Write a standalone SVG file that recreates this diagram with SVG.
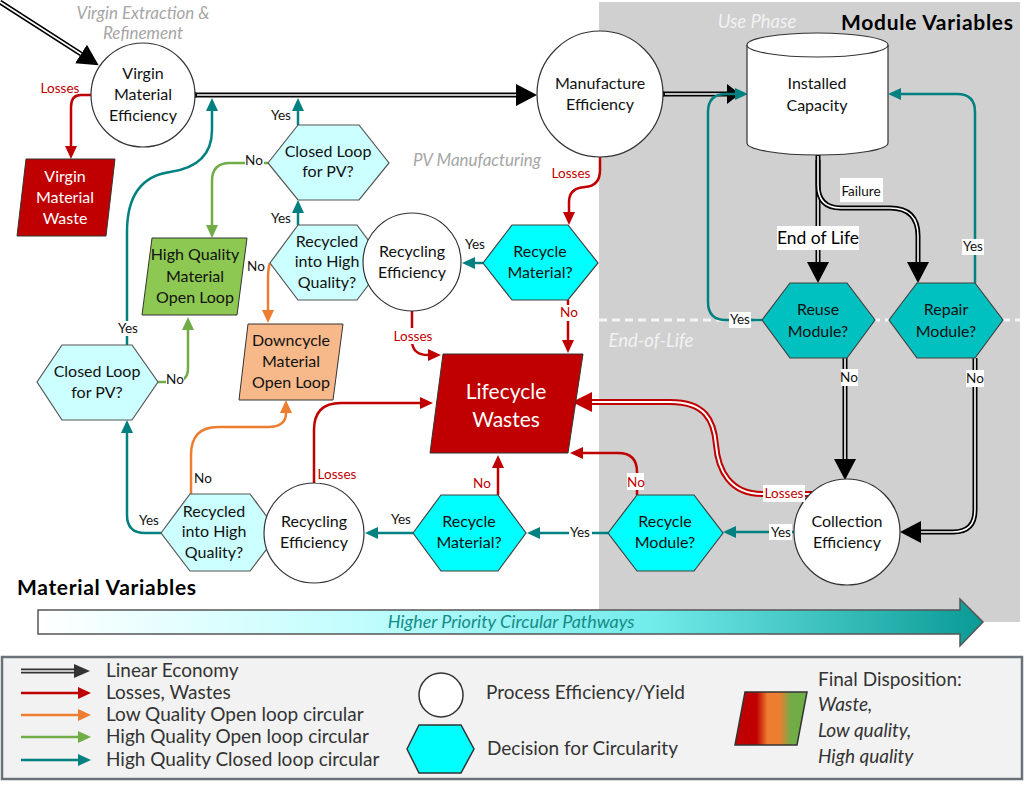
<svg xmlns="http://www.w3.org/2000/svg" width="1025" height="809" viewBox="0 0 1025 809">
<style>
text{font-family:Lato,'Open Sans','Noto Sans',sans-serif}
.t{font-size:16px;fill:#111;text-anchor:middle}
.w{fill:#fff}
.lb{font-size:13.5px;fill:#111;text-anchor:middle}
.lr{font-size:13.5px;fill:#C00000;text-anchor:middle}
.circ{fill:#fff;stroke:#333;stroke-width:1.2}
.hc{fill:#00FFFF;stroke:#404040;stroke-width:1.2}
.hl{fill:#CCFFFF;stroke:#555;stroke-width:1.2}
.ht{fill:#00C0C0;stroke:#404040;stroke-width:1.2}
.teal{fill:none;stroke:#008080;stroke-width:2.5}
.red{fill:none;stroke:#C00000;stroke-width:2.5}
.org{fill:none;stroke:#ED7D31;stroke-width:2.5}
.grn{fill:none;stroke:#70AD47;stroke-width:2.5}
.dbo{fill:none;stroke:#000;stroke-width:5}
.dbi{fill:none;stroke:#fff;stroke-width:1.6}
.rdo{fill:none;stroke:#C00000;stroke-width:6}
.rdi{fill:none;stroke:#fff;stroke-width:2}
.box{fill:#fff}
.leg{font-size:19px;fill:#333}
.gi{font-size:17px;font-style:italic;fill:#A6A6A6;text-anchor:middle}
.wi{font-size:18.5px;font-style:italic;fill:#F2F2F2;text-anchor:middle}
</style>
<defs>
<marker id="mT" viewBox="0 -8 16 16" refX="0" refY="0" markerWidth="16" markerHeight="16" markerUnits="userSpaceOnUse" orient="auto"><path d="M0,-6 L13,0 L0,6z" fill="#008080"/></marker>
<marker id="mR" viewBox="0 -8 16 16" refX="0" refY="0" markerWidth="16" markerHeight="16" markerUnits="userSpaceOnUse" orient="auto"><path d="M0,-6 L13,0 L0,6z" fill="#C00000"/></marker>
<marker id="mO" viewBox="0 -8 16 16" refX="0" refY="0" markerWidth="16" markerHeight="16" markerUnits="userSpaceOnUse" orient="auto"><path d="M0,-6 L13,0 L0,6z" fill="#ED7D31"/></marker>
<marker id="mG" viewBox="0 -8 16 16" refX="0" refY="0" markerWidth="16" markerHeight="16" markerUnits="userSpaceOnUse" orient="auto"><path d="M0,-6 L13,0 L0,6z" fill="#70AD47"/></marker>
<marker id="mB" viewBox="0 -12 24 24" refX="0" refY="0" markerWidth="24" markerHeight="24" markerUnits="userSpaceOnUse" orient="auto"><path d="M0,-11 L21,0 L0,11z" fill="#000"/></marker>
<marker id="mBs" viewBox="0 -12 24 24" refX="0" refY="0" markerWidth="24" markerHeight="24" markerUnits="userSpaceOnUse" orient="auto"><path d="M0,-10 L13,0 L0,10z" fill="#000"/></marker>
<marker id="mRB" viewBox="0 -12 24 24" refX="0" refY="0" markerWidth="24" markerHeight="24" markerUnits="userSpaceOnUse" orient="auto"><path d="M0,-10 L20,0 L0,10z" fill="#C00000"/></marker>
<marker id="mLB" viewBox="0 -8 18 16" refX="0" refY="0" markerWidth="18" markerHeight="16" markerUnits="userSpaceOnUse" orient="auto"><path d="M0,-7 L16,0 L0,7z" fill="#333"/></marker>
<linearGradient id="gBar" x1="0" y1="0" x2="1" y2="0">
<stop offset="0" stop-color="#FFFFFF"/><stop offset="0.35" stop-color="#BFFDFD"/><stop offset="0.65" stop-color="#72EBEB"/><stop offset="1" stop-color="#0A9A95"/>
</linearGradient>
<linearGradient id="gDisp" x1="0" y1="0" x2="1" y2="0">
<stop offset="0" stop-color="#C00000"/><stop offset="0.3" stop-color="#C00000"/><stop offset="0.45" stop-color="#ED7D31"/><stop offset="0.62" stop-color="#ED7D31"/><stop offset="0.78" stop-color="#70AD47"/><stop offset="1" stop-color="#70AD47"/>
</linearGradient>
</defs>

<g id="background">
<rect x="0" y="0" width="1025" height="809" fill="#fff"/>
<rect x="599" y="2" width="421" height="620" fill="#D0D0D0"/>
<line x1="599" y1="320" x2="1020" y2="320" stroke="#F4F4F4" stroke-width="3" stroke-dasharray="8,5"/>
<text class="gi" x="143" y="19">Virgin Extraction &amp;</text>
<text class="gi" x="143" y="39">Refinement</text>
<text class="gi" x="477" y="166">PV Manufacturing</text>
<text class="wi" x="757" y="28">Use Phase</text>
<text class="wi" x="651" y="347">End-of-Life</text>
<text x="841" y="30" font-size="21" font-weight="bold" fill="#000" textLength="172" lengthAdjust="spacing">Module Variables</text>
<text x="17" y="595" font-size="21" font-weight="bold" fill="#000" textLength="179" lengthAdjust="spacing">Material Variables</text>
</g>

<g id="priority-arrow">
<path d="M38,610 L960,610 L960,599 L983,622 L960,646 L960,634 L38,634 Z" fill="url(#gBar)" stroke="#555" stroke-width="1.5"/>
<text x="511" y="628" font-size="18" font-style="italic" fill="#148C88" text-anchor="middle">Higher Priority Circular Pathways</text>
</g>

<g id="connectors">
<path class="dbo" d="M0,2 L81,54" marker-end="url(#mB)"/><path class="dbi" d="M0,2 L81,54"/>
<path class="dbo" d="M194,95 L516,95" marker-end="url(#mB)"/><path class="dbi" d="M196,95 L516,95"/>
<circle cx="194" cy="95" r="3" fill="#000"/>
<path class="dbo" d="M662,94 L727,94" marker-end="url(#mBs)"/><path class="dbi" d="M664,94 L727,94"/>
<circle cx="662" cy="94" r="3" fill="#000"/>
<path class="dbo" d="M818,155 L818,262" marker-end="url(#mB)"/><path class="dbi" d="M818,156 L818,262"/>
<path class="dbo" d="M818,160 L818,185 Q818,208 841,208 L890,208 Q918,208 918,236 L918,262" marker-end="url(#mB)"/><path class="dbi" d="M818,160 L818,185 Q818,208 841,208 L890,208 Q918,208 918,236 L918,262"/>
<path class="dbo" d="M845,358 L845,459" marker-end="url(#mB)"/><path class="dbi" d="M845,358 L845,459"/>
<path class="dbo" d="M975,358 L975,510 Q975,532 953,532 L921,532" marker-end="url(#mB)"/><path class="dbi" d="M975,358 L975,510 Q975,532 953,532 L921,532"/>
<path class="rdo" d="M812,494 L762,494 C730,494 718,470 716,445 C714,420 705,402 670,402 L592,402" marker-end="url(#mRB)"/>
<path class="rdi" d="M812,494 L762,494 C730,494 718,470 716,445 C714,420 705,402 670,402 L592,402"/>
<path class="teal" d="M762,320 L726,320 Q708,320 708,302 L708,112 Q708,94 726,94 L735,94" marker-end="url(#mT)"/>
<path class="teal" d="M975,283 L975,112 Q975,94 957,94 L901,94" marker-end="url(#mT)"/>
<path class="teal" d="M794,532 L736,532" marker-end="url(#mT)"/>
<path class="teal" d="M608,533 L540,533" marker-end="url(#mT)"/>
<path class="teal" d="M413,533 L378,533" marker-end="url(#mT)"/>
<path class="teal" d="M161,533 L145,533 Q127,533 127,515 L127,433" marker-end="url(#mT)"/>
<path class="teal" d="M127,345 L127,232 Q127,178 170,172 Q212,166 212,130 L212,111" marker-end="url(#mT)"/>
<path class="teal" d="M298,125 L298,111" marker-end="url(#mT)"/>
<path class="teal" d="M298,225 L298,213" marker-end="url(#mT)"/>
<path class="teal" d="M483,263 L475,263" marker-end="url(#mT)"/>
<path class="red" d="M91,95 L81,95 Q71,95 71,107 L71,146" marker-end="url(#mR)"/>
<path class="red" d="M600,157 L600,170 Q600,186 585,187 Q569,188 569,202 L569,212" marker-end="url(#mR)"/>
<path class="red" d="M568,300 L568,340" marker-end="url(#mR)"/>
<path class="red" d="M412,311 L412,342 Q413,355 428,355" marker-end="url(#mR)"/>
<path class="red" d="M314,483 L314,430 Q314,403 341,403 L420,403" marker-end="url(#mR)"/>
<path class="red" d="M498,495 L498,468" marker-end="url(#mR)"/>
<path class="red" d="M637,495 L637,472 Q637,453 618,453 L583,453" marker-end="url(#mR)"/>
<path class="org" d="M270,263 Q268,268 268,280 L268,310" marker-end="url(#mO)"/>
<path class="org" d="M191,494 L191,455 Q191,427 218,427 L268,427 Q286,427 286,413" marker-end="url(#mO)"/>
<path class="grn" d="M268,163 L230,163 Q212,163 212,181 L212,225" marker-end="url(#mG)"/>
<path class="grn" d="M158,382 L174,382 Q188,382 188,368 L188,330" marker-end="url(#mG)"/>
</g>

<g id="n-virgin-eff"><circle class="circ" cx="143" cy="95" r="52"/>
<text class="t" x="143" y="79">Virgin</text><text class="t" x="143" y="100">Material</text><text class="t" x="143" y="121">Efficiency</text></g>
<g id="n-virgin-waste"><polygon points="26,159 115,159 106,236 17,236" fill="#C00000" stroke="#333" stroke-width="1"/>
<text class="t w" x="65" y="182">Virgin</text><text class="t w" x="65" y="203">Material</text><text class="t w" x="65" y="224">Waste</text></g>
<g id="n-manuf"><circle class="circ" cx="600" cy="94" r="63"/>
<text class="t" x="600" y="89">Manufacture</text><text class="t" x="600" y="110">Efficiency</text></g>
<g id="n-installed">
<path d="M747,45 L747,143 A70.5,12 0 0 0 888,143 L888,45" fill="#fff" stroke="#333" stroke-width="1.2"/>
<ellipse cx="817.5" cy="45" rx="70.5" ry="12" fill="#fff" stroke="#333" stroke-width="1.2"/>
<text class="t" x="817" y="89">Installed</text><text class="t" x="817" y="111">Capacity</text></g>
<g id="n-reuse"><polygon class="ht" points="762,320 790,283 847,283 875,320 847,358 790,358"/>
<text class="t" x="818" y="315">Reuse</text><text class="t" x="818" y="337">Module?</text></g>
<g id="n-repair"><polygon class="ht" points="889,320 917,283 975,283 1003,320 975,358 917,358"/>
<text class="t" x="946" y="315">Repair</text><text class="t" x="946" y="337">Module?</text></g>
<g id="n-collection"><circle class="circ" cx="847" cy="532" r="53"/>
<text class="t" x="847" y="527">Collection</text><text class="t" x="847" y="548">Efficiency</text></g>
<g id="n-recycle-module"><polygon class="hc" points="608,533 637,495 694,495 723,533 694,571 637,571"/>
<text class="t" x="665" y="527">Recycle</text><text class="t" x="665" y="548">Module?</text></g>
<g id="n-recycle-mat-low"><polygon class="hc" points="413,533 441,495 498,495 526,533 498,571 441,571"/>
<text class="t" x="469" y="527">Recycle</text><text class="t" x="469" y="548">Material?</text></g>
<g id="n-recycled-hq-low"><polygon class="hl" points="161,533 190,494 250,494 279,533 250,571 190,571"/>
<text class="t" x="214" y="517">Recycled</text><text class="t" x="214" y="537">into High</text><text class="t" x="214" y="558">Quality?</text></g>
<g id="n-recycling-eff-low"><circle class="circ" cx="314" cy="533" r="50"/>
<text class="t" x="314" y="527">Recycling</text><text class="t" x="314" y="548">Efficiency</text></g>
<g id="n-closed-low"><polygon class="hl" points="37,382 62,345 132,345 158,382 132,420 62,420"/>
<text class="t" x="97" y="377">Closed Loop</text><text class="t" x="97" y="398">for PV?</text></g>
<g id="n-hq-open"><polygon points="152,238 247,238 237,315 142,315" fill="#8DC852" stroke="#333" stroke-width="1"/>
<text class="t" x="195" y="260">High Quality</text><text class="t" x="195" y="282">Material</text><text class="t" x="195" y="303">Open Loop</text></g>
<g id="n-downcycle"><polygon points="248,324 343,324 333,400 239,400" fill="#F8B98A" stroke="#333" stroke-width="1"/>
<text class="t" x="291" y="346">Downcycle</text><text class="t" x="291" y="367">Material</text><text class="t" x="291" y="388">Open Loop</text></g>
<g id="n-closed-up"><polygon class="hl" points="268,163 298,125 359,125 389,163 359,200 298,200"/>
<text class="t" x="328" y="157">Closed Loop</text><text class="t" x="328" y="177">for PV?</text></g>
<g id="n-recycled-hq-up"><polygon class="hl" points="270,263 298,225 357,225 385,263 357,300 298,300"/>
<text class="t" x="327" y="247">Recycled</text><text class="t" x="327" y="267">into High</text><text class="t" x="327" y="288">Quality?</text></g>
<g id="n-recycling-eff-up"><circle class="circ" cx="412" cy="262" r="49"/>
<text class="t" x="412" y="257">Recycling</text><text class="t" x="412" y="278">Efficiency</text></g>
<g id="n-recycle-mat-up"><polygon class="hc" points="483,263 512,225 568,225 598,263 568,300 512,300"/>
<text class="t" x="540" y="257">Recycle</text><text class="t" x="540" y="278">Material?</text></g>
<g id="n-lifecycle"><polygon points="443,354 583,354 568,453 430,453" fill="#C00000" stroke="#333" stroke-width="1"/>
<text x="506" y="399" font-size="21" fill="#fff" text-anchor="middle">Lifecycle</text><text x="506" y="427" font-size="21" fill="#fff" text-anchor="middle">Wastes</text></g>

<g id="labels">
<rect class="box" x="777" y="226" width="82" height="24"/><text x="818" y="244" font-size="17.5" fill="#000" text-anchor="middle">End of Life</text>
<rect class="box" x="840" y="178" width="43" height="24"/><text class="lb" x="861" y="196">Failure</text>
<rect class="box" x="962" y="239" width="22" height="16"/><text class="lb" x="973" y="251">Yes</text>
<rect class="box" x="729" y="312" width="22" height="16"/><text class="lb" x="740" y="324">Yes</text>
<rect class="box" x="841" y="369" width="17" height="17"/><text class="lb" x="849" y="382">No</text>
<rect class="box" x="966" y="370" width="18" height="17"/><text class="lb" x="975" y="383">No</text>
<rect class="box" x="763" y="485" width="42" height="17"/><text class="lr" x="784" y="498">Losses</text>
<rect class="box" x="769" y="524" width="23" height="16"/><text class="lb" x="781" y="537">Yes</text>
<rect class="box" x="627" y="473" width="17" height="17"/><text class="lr" x="636" y="487">No</text>
<rect class="box" x="569" y="524" width="23" height="16"/><text class="lb" x="580" y="537">Yes</text>
<text class="lr" x="60" y="93">Losses</text>
<text class="lr" x="571" y="178">Losses</text>
<text class="lb" x="281" y="120">Yes</text>
<rect class="box" x="245" y="154" width="19" height="15"/><text class="lb" x="254" y="165">No</text>
<text class="lb" x="281" y="223">Yes</text>
<rect class="box" x="247" y="259" width="19" height="16"/><text class="lb" x="256" y="271">No</text>
<text class="lb" x="475" y="249">Yes</text>
<rect class="box" x="560" y="305" width="18" height="16"/><text class="lr" x="569" y="317">No</text>
<rect class="box" x="392" y="328" width="42" height="16"/><text class="lr" x="413" y="341">Losses</text>
<rect class="box" x="116" y="321" width="24" height="15"/><text class="lb" x="128" y="333">Yes</text>
<rect class="box" x="166" y="373" width="18" height="15"/><text class="lb" x="175" y="384">No</text>
<text class="lb" x="203" y="483">No</text>
<text class="lb" x="149" y="525">Yes</text>
<rect class="box" x="316" y="468" width="42" height="15"/><text class="lr" x="337" y="479">Losses</text>
<text class="lb" x="401" y="524">Yes</text>
<text class="lr" x="482" y="488">No</text>
</g>

<g id="legend">
<rect x="2" y="657" width="1020" height="122" fill="#F2F2F2" stroke="#6A7178" stroke-width="2.5"/>
<path d="M21,671 L74,671" stroke="#333" stroke-width="5" fill="none" marker-end="url(#mLB)"/><path d="M21,671 L74,671" stroke="#F2F2F2" stroke-width="1.4" fill="none"/>
<path d="M21,693 L78,693" stroke="#C00000" stroke-width="2.5" fill="none" marker-end="url(#mR)"/>
<path d="M21,715 L78,715" stroke="#ED7D31" stroke-width="2.5" fill="none" marker-end="url(#mO)"/>
<path d="M21,737 L78,737" stroke="#70AD47" stroke-width="2.5" fill="none" marker-end="url(#mG)"/>
<path d="M21,760 L78,760" stroke="#008080" stroke-width="2.5" fill="none" marker-end="url(#mT)"/>
<text class="leg" x="106" y="677">Linear Economy</text>
<text class="leg" x="106" y="699">Losses, Wastes</text>
<text class="leg" x="106" y="721">Low Quality Open loop circular</text>
<text class="leg" x="106" y="743">High Quality Open loop circular</text>
<text class="leg" x="106" y="766">High Quality Closed loop circular</text>
<circle cx="441" cy="695" r="22" fill="#fff" stroke="#333" stroke-width="1.5"/>
<polygon points="407,749 419,725 461,725 474,749 461,773 419,773" fill="#00FFFF" stroke="#333" stroke-width="1.5"/>
<text class="leg" x="486" y="699">Process Efficiency/Yield</text>
<text class="leg" x="487" y="755">Decision for Circularity</text>
<polygon points="745,692 807,692 797,745 735,745" fill="url(#gDisp)" stroke="#333" stroke-width="1.5"/>
<text class="leg" x="818" y="686">Final Disposition:</text>
<text class="leg" x="818" y="711" font-style="italic">Waste,</text>
<text class="leg" x="818" y="737" font-style="italic">Low quality,</text>
<text class="leg" x="818" y="763" font-style="italic">High quality</text>
</g>
</svg>
